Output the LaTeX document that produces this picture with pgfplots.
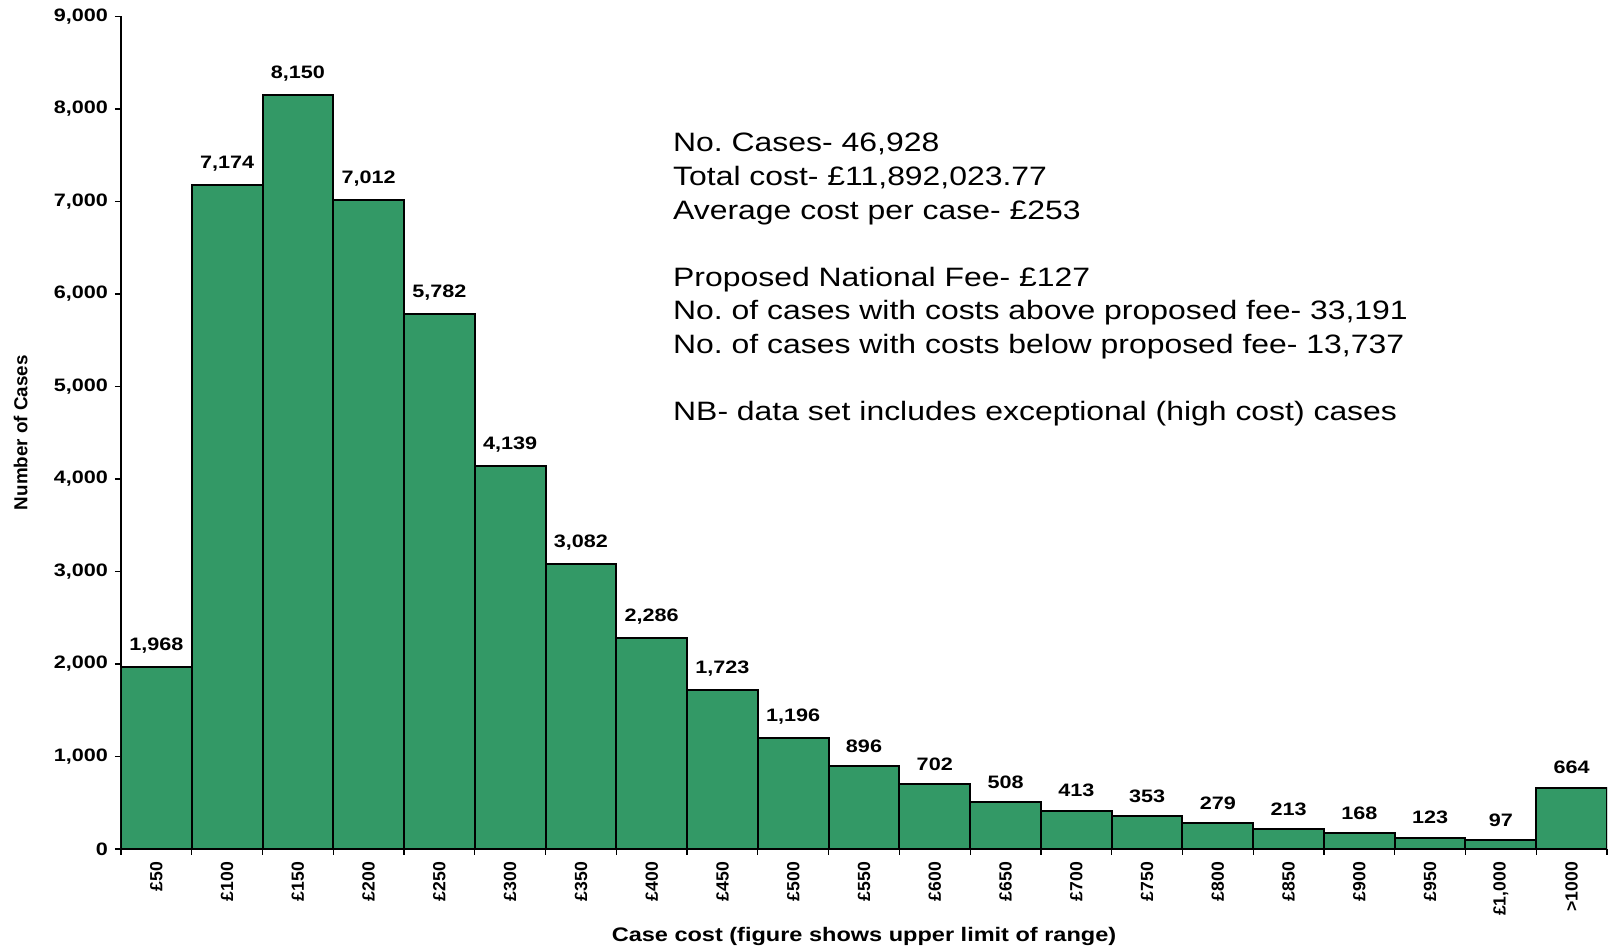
\documentclass[border=0pt]{standalone}
\usepackage{fontspec}
\setmainfont{Liberation Sans}[FakeStretch=1.2]
\newfontfamily\plainsans{Liberation Sans}
\usepackage{pgfplots}
\pgfplotsset{compat=1.18}
\usetikzlibrary{calc}
\definecolor{barg}{HTML}{339966}
\frenchspacing
\begin{document}
\begin{tikzpicture}
\begin{axis}[
  name=ax, at={(0,0)}, anchor=south west,
  scale only axis, width=743pt, height=416.3pt,
  xmin=-0.5, xmax=20.5, ymin=0, ymax=9000,
  axis x line*=bottom, axis y line*=left,
  axis line style={black, line width=0.7pt},
  ytick={0,1000,...,9000},
  scaled y ticks=false,
  /pgf/number format/1000 sep={,},
  /pgf/number format/assume math mode=true,
  xtick={0,...,20},
  xticklabels={\pounds50,\pounds100,\pounds150,\pounds200,\pounds250,\pounds300,\pounds350,\pounds400,\pounds450,\pounds500,\pounds550,\pounds600,\pounds650,\pounds700,\pounds750,\pounds800,\pounds850,\pounds900,\pounds950,{\pounds1,000},>1000},
  minor xtick={-0.5,0.5,...,20.5},
  major x tick style={draw=none},
  tick align=outside,
  tick style={black, line width=0.6pt},
  major tick length=3pt, minor tick length=3pt,
  yticklabel style={font=\bfseries\fontsize{9}{10}\selectfont},
  xticklabel style={font=\plainsans\bfseries\fontsize{8.8}{9}\selectfont, rotate=90, anchor=east},
  xlabel={Case cost (figure shows upper limit of range)},
  xlabel style={font=\bfseries\fontsize{9.8}{11}\selectfont, at={(axis description cs:0.5,-0.1045)}, anchor=center},
  ylabel={Number of Cases},
  ylabel style={font=\plainsans\bfseries\fontsize{9.4}{10}\selectfont, at={(axis description cs:-0.0676,0.5)}, anchor=center},
  ybar, bar width=1, bar shift=0pt,
  nodes near coords,
  nodes near coords style={font=\bfseries\fontsize{9}{10}\selectfont, yshift=3pt},
]
\addplot[fill=barg, draw=black, line width=1pt] coordinates {
(0,1968) (1,7174) (2,8150) (3,7012) (4,5782) (5,4139) (6,3082) (7,2286)
(8,1723) (9,1196) (10,896) (11,702) (12,508) (13,413) (14,353) (15,279)
(16,213) (17,168) (18,123) (19,97) (20,664)};
\begin{scope}[every node/.style={anchor=base west, inner sep=0pt, font=\fontsize{13.3}{15}\selectfont}]
\node at (rel axis cs:0.3713,0.8374) {No. Cases- 46,928};
\node at (rel axis cs:0.3713,0.7968) {Total cost- \pounds11,892,023.77};
\node at (rel axis cs:0.3713,0.7562) {Average cost per case- \pounds253};
\node at (rel axis cs:0.3713,0.6761) {Proposed National Fee- \pounds127};
\node at (rel axis cs:0.3713,0.6355) {No. of cases with costs above proposed fee- 33,191};
\node at (rel axis cs:0.3713,0.5948) {No. of cases with costs below proposed fee- 13,737};
\node at (rel axis cs:0.3713,0.5148) {NB- data set includes exceptional (high cost) cases};
\end{scope}
\end{axis}
\pgfresetboundingbox
\path[use as bounding box] (-60.5pt,-49.5pt) rectangle (743.5pt,424.5pt);
\end{tikzpicture}
\end{document}
